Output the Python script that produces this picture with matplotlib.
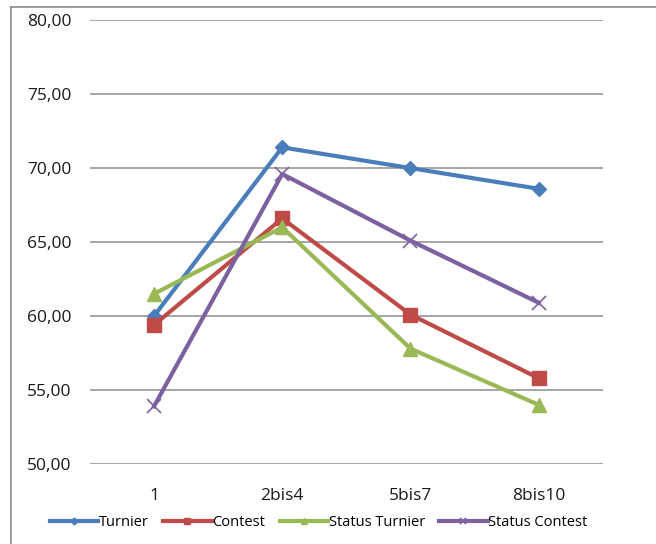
import matplotlib
matplotlib.use("Agg")
import matplotlib.pyplot as plt
from matplotlib.lines import Line2D
from matplotlib.ticker import FuncFormatter

plt.rcParams['font.family'] = ['Open Sans', 'DejaVu Sans']

# Data
categories = ["1", "2bis4", "5bis7", "8bis10"]
turnier = [60.0, 71.4, 70.0, 68.6]
contest = [59.4, 66.6, 60.1, 55.8]
status_turnier = [61.5, 66.0, 57.8, 54.0]
status_contest = [53.9, 69.6, 65.1, 60.9]

fig = plt.figure(figsize=(6.56, 5.44), dpi=100)
ax = fig.add_axes([0.137, 0.147, 0.782, 0.816])

x = list(range(len(categories)))
ax.plot(x, turnier, color="#4A7EBB", lw=3, marker="D", ms=7, label="Turnier")
ax.plot(x, contest, color="#BE4B48", lw=3, marker="s", ms=10, label="Contest")
ax.plot(x, status_turnier, color="#98B954", lw=3, marker="^", ms=10, label="Status Turnier")
ax.plot(x, status_contest, color="#7D60A0", lw=3, marker="x", ms=10, mew=1.2,
        label="Status Contest")

ax.set_ylim(50, 80)
ax.set_yticks(range(50, 81, 5))
ax.yaxis.set_major_formatter(FuncFormatter(lambda v, p: f"{v:.2f}".replace(".", ",")))
ax.set_xlim(-0.5, len(categories) - 0.5)
ax.set_xticks(x)
ax.set_xticklabels(categories)
ax.grid(axis="y", color="#969696", lw=1.2)
ax.set_axisbelow(True)
for s in ax.spines.values():
    s.set_visible(False)
ax.tick_params(axis="both", length=0, labelsize=12.5, colors="#1a1a1a")
ax.tick_params(axis="y", pad=13)
ax.tick_params(axis="x", pad=17)

fig.legend(loc="center", bbox_to_anchor=(0.486, 0.04), ncol=4, frameon=False,
           fontsize=10.5, handlelength=3.3, handletextpad=0.05, columnspacing=1.0,
           markerscale=0.5)

# chart frame (left and top edges visible)
fig.add_artist(Line2D([11 / 656, 11 / 656], [0, 1 - 7 / 544], color="#8c8c8c", lw=1.2))
fig.add_artist(Line2D([11 / 656, 1], [1 - 7 / 544, 1 - 7 / 544], color="#8c8c8c", lw=1.2))

fig.savefig("out.png", dpi=100)
